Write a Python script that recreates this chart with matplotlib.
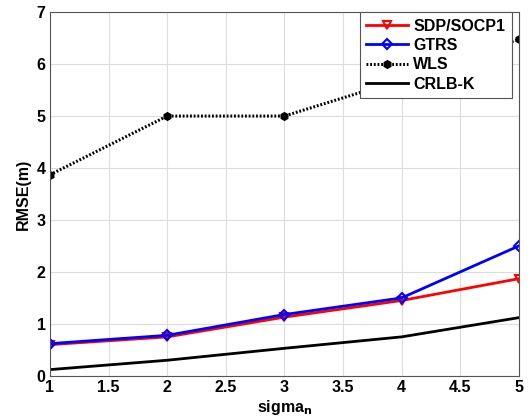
import numpy as np
import matplotlib.pyplot as plt
import matplotlib as mpl

mpl.rcParams['font.family'] = ['Liberation Sans', 'DejaVu Sans']
mpl.rcParams['font.weight'] = 'bold'

sigma = [1, 2, 3, 4, 5]
sdp_socp = [0.60, 0.75, 1.13, 1.45, 1.87]
gtrs = [0.62, 0.78, 1.18, 1.50, 2.50]
wls = [3.87, 5.00, 5.00, 5.70, 6.48]
crlb = [0.12, 0.30, 0.53, 0.75, 1.12]


def main():
    fig = plt.figure(figsize=(5.31, 4.19), dpi=100)
    ax = fig.add_axes([0.094, 0.103, 0.883, 0.868])

    ax.plot(sigma, sdp_socp, color='red', lw=2, marker='v', ms=6,
            mfc='none', mew=1.5, label='SDP/SOCP1')
    ax.plot(sigma, gtrs, color='blue', lw=2, marker='D', ms=5,
            mfc='none', mew=1.5, label='GTRS')
    ax.plot(sigma, wls, color='black', lw=2.2, ls=(0, (0.6, 0.6)),
            marker='h', ms=5.5, label='WLS')
    ax.plot(sigma, crlb, color='black', lw=2, label='CRLB-K')

    ax.set_xlim(1, 5)
    ax.set_ylim(0, 7)
    ax.set_xticks([1, 1.5, 2, 2.5, 3, 3.5, 4, 4.5, 5])
    ax.set_xticklabels(['1', '1.5', '2', '2.5', '3', '3.5', '4', '4.5', '5'])
    ax.grid(True, color='#dcdcdc', lw=0.8)
    ax.tick_params(labelsize=11.5, direction='in', length=0, pad=3)
    for sp in ax.spines.values():
        sp.set_color('#555555')

    ax.set_xlabel('sigma$_\\mathbf{n}$', fontsize=11.5, fontweight='bold',
                  labelpad=2)
    ax.set_ylabel('RMSE(m)', fontsize=11.5, fontweight='bold', labelpad=4)

    leg = ax.legend(loc='upper right', fontsize=11.5, fancybox=False,
                    framealpha=1, edgecolor='#555555', handlelength=2.6,
                    handletextpad=0.35, borderaxespad=0.0,
                    labelspacing=0.28, borderpad=0.4,
                    bbox_to_anchor=(0.985, 1.0))
    leg.get_frame().set_linewidth(0.8)

    fig.savefig('out.png', dpi=100)


if __name__ == "__main__":
    main()
